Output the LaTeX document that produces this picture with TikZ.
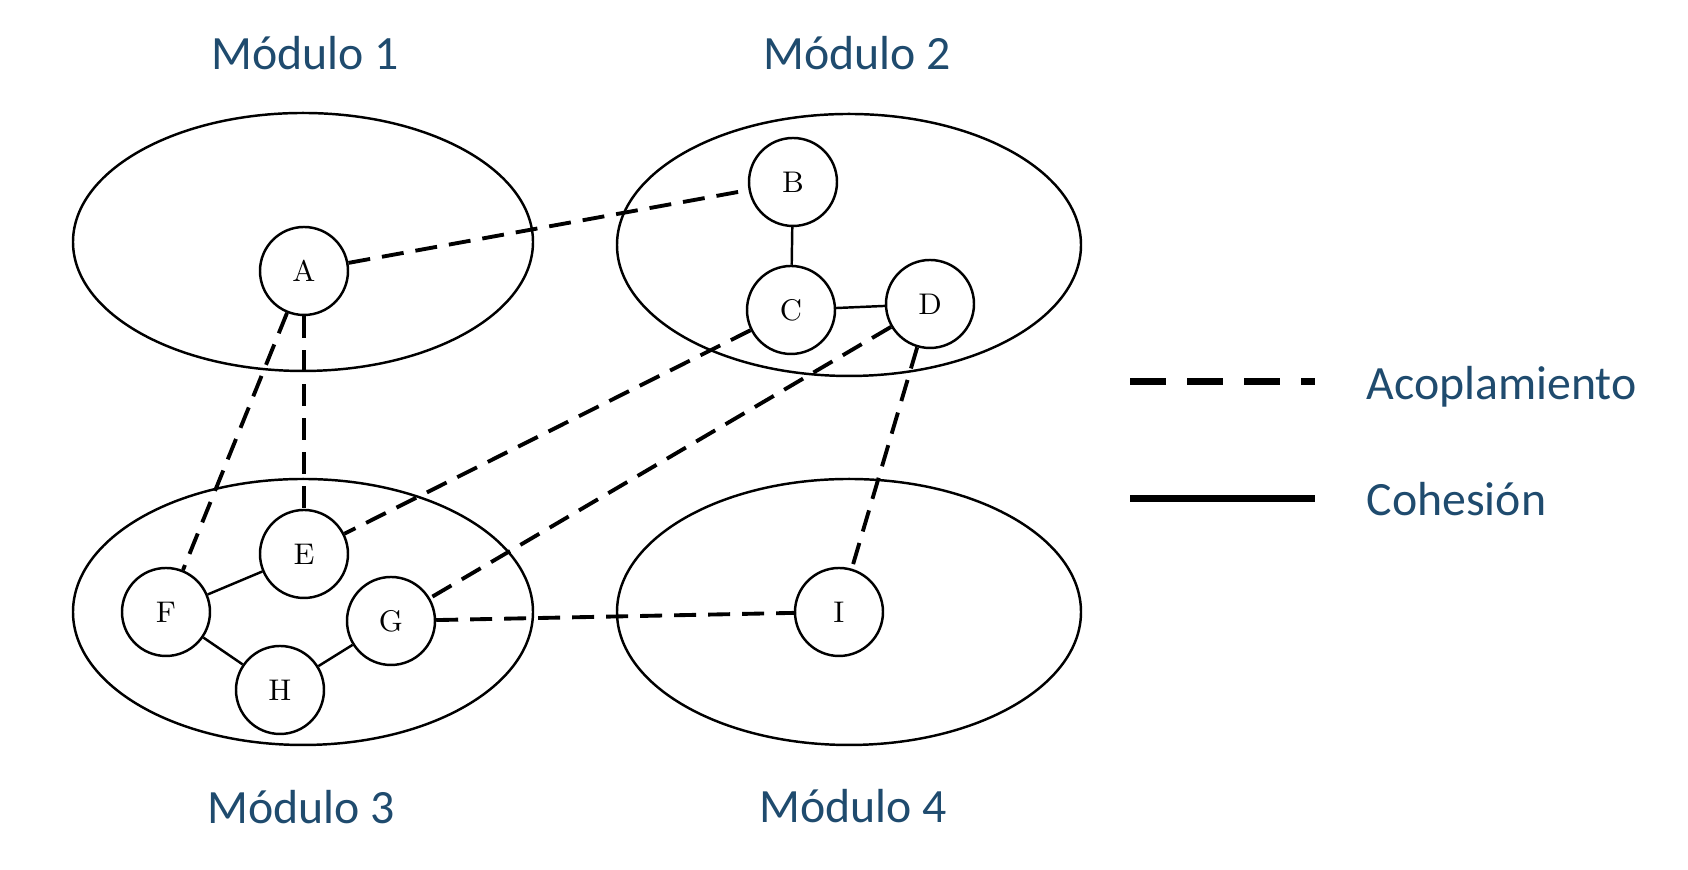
\documentclass[tikz,border=0pt]{standalone}
\usepackage{fontspec}
\newfontfamily\labelfont{Carlito}
\usetikzlibrary{calc}
\definecolor{modblue}{RGB}{31,75,110}
\tikzset{
	modnode/.style={draw, circle, minimum size=0.88cm, inner sep=0pt, line width=0.7pt, font=\fontsize{8.5}{9}\selectfont},
	acopl/.style={line width=1.1pt, dash pattern=on 0.22cm off 0.12cm},
	cohes/.style={line width=0.7pt},
	modlabel/.style={anchor=base, text=modblue, font=\labelfont\fontsize{13.6}{16}\selectfont}
}

\begin{document}
\begin{tikzpicture}
		%%%%% START %%%%%
		\useasboundingbox (0, 0) rectangle (16.88, 8.70);
		
		% modules
		\draw[line width=0.7pt] (3.03, 6.28) ellipse (2.30 and 1.29);
		\draw[line width=0.7pt] (8.49, 6.25) ellipse (2.32 and 1.31);
		\draw[line width=0.7pt] (3.03, 2.58) ellipse (2.30 and 1.33);
		\draw[line width=0.7pt] (8.49, 2.58) ellipse (2.32 and 1.33);
		
		\node[modlabel] (m1) at (3.05, 8.00) {Módulo 1};
		\node[modlabel] (m2) at (8.57, 8.00) {Módulo 2};
		\node[modlabel] (m3) at (3.01, 0.46) {Módulo 3};
		\node[modlabel] (m4) at (8.53, 0.47) {Módulo 4};
		
		% components
		\node[modnode] (A) at (3.04, 5.99) {A};
		\node[modnode] (B) at (7.93, 6.88) {B};
		\node[modnode] (C) at (7.91, 5.60) {C};
		\node[modnode] (D) at (9.30, 5.66) {D};
		\node[modnode] (E) at (3.04, 3.16) {E};
		\node[modnode] (F) at (1.66, 2.58) {F};
		\node[modnode] (G) at (3.91, 2.49) {G};
		\node[modnode] (H) at (2.80, 1.80) {H};
		\node[modnode] (I) at (8.39, 2.58) {I};
		
		% cohesion
		\draw[cohes] (B) -- (C);
		\draw[cohes] (C) -- (D);
		\draw[cohes] (F) -- (E);
		\draw[cohes] (F) -- (H);
		\draw[cohes] (H) -- (G);
		
		% coupling
		\draw[acopl] (A) -- (B);
		\draw[acopl] (A) -- (E);
		\draw[acopl] (A) -- (F);
		\draw[acopl] (C) -- (E);
		\draw[acopl] (D) -- (G);
		\draw[acopl] (D) -- (I);
		\draw[acopl] (G) -- (I);
		
		% legend
		\coordinate (la1) at (11.30, 4.88);
		\coordinate (la2) at (13.15, 4.88);
		\coordinate (lc1) at (11.30, 3.71);
		\coordinate (lc2) at (13.15, 3.71);
		\draw[line width=2pt, dash pattern=on 0.36cm off 0.21cm] (la1) -- (la2);
		\draw[line width=2pt] (lc1) -- (lc2);
		\node[modlabel, anchor=base west, inner sep=0pt] (lacopl) at (13.66, 4.70) {Acoplamiento};
		\node[modlabel, anchor=base west, inner sep=0pt] (lcohes) at (13.66, 3.54) {Cohesión};
		
		%%%%% END %%%%%
	\end{tikzpicture}
\end{document}
